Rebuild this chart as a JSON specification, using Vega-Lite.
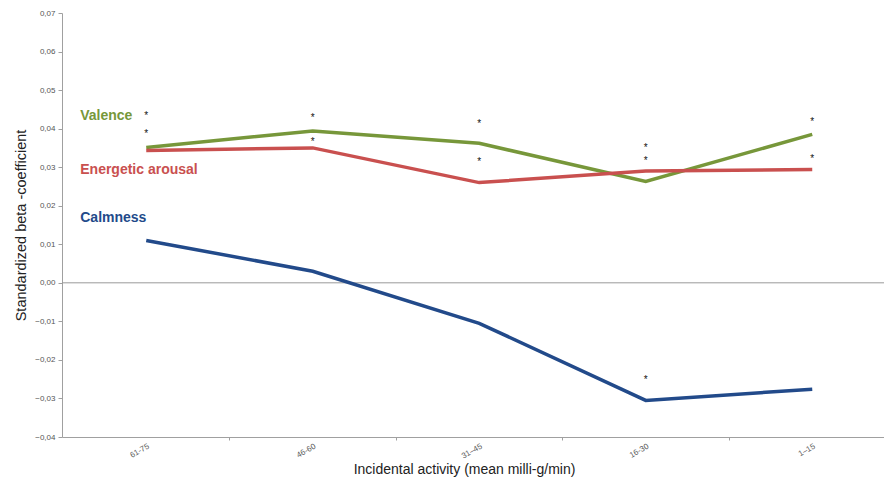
{
  "$schema": "https://vega.github.io/schema/vega-lite/v6.json",
  "width": 822,
  "height": 424,
  "autosize": {"type": "none"},
  "padding": {"left": 62, "top": 13, "right": 0, "bottom": 48},
  "background": "white",
  "config": {"view": {"stroke": null}, "font": "Liberation Sans"},
  "datasets": {
    "lines": [
      {"cat": "61-75", "series": "Valence", "value": 0.0351},
      {"cat": "46-60", "series": "Valence", "value": 0.0394},
      {"cat": "31\u201345", "series": "Valence", "value": 0.0362},
      {"cat": "16-30", "series": "Valence", "value": 0.0263},
      {"cat": "1\u201315", "series": "Valence", "value": 0.0385},
      {"cat": "61-75", "series": "Energetic arousal", "value": 0.0343},
      {"cat": "46-60", "series": "Energetic arousal", "value": 0.0350},
      {"cat": "31\u201345", "series": "Energetic arousal", "value": 0.0260},
      {"cat": "16-30", "series": "Energetic arousal", "value": 0.0290},
      {"cat": "1\u201315", "series": "Energetic arousal", "value": 0.0294},
      {"cat": "61-75", "series": "Calmness", "value": 0.0110},
      {"cat": "46-60", "series": "Calmness", "value": 0.0030},
      {"cat": "31\u201345", "series": "Calmness", "value": -0.0105},
      {"cat": "16-30", "series": "Calmness", "value": -0.0305},
      {"cat": "1\u201315", "series": "Calmness", "value": -0.0276}
    ],
    "stars": [
      {"cat": "61-75", "value": 0.0440},
      {"cat": "61-75", "value": 0.0393},
      {"cat": "46-60", "value": 0.0435},
      {"cat": "46-60", "value": 0.0372},
      {"cat": "31\u201345", "value": 0.0421},
      {"cat": "31\u201345", "value": 0.0320},
      {"cat": "16-30", "value": 0.0357},
      {"cat": "16-30", "value": 0.0323},
      {"cat": "16-30", "value": -0.0245},
      {"cat": "1\u201315", "value": 0.0424},
      {"cat": "1\u201315", "value": 0.0328}
    ],
    "labels": [
      {"cat": "61-75", "series": "Valence", "value": 0.0432},
      {"cat": "61-75", "series": "Energetic arousal", "value": 0.0292},
      {"cat": "61-75", "series": "Calmness", "value": 0.0167}
    ],
    "zero": [{"value": 0}]
  },
  "encoding": {
    "x": {
      "field": "cat",
      "type": "ordinal",
      "sort": ["61-75", "46-60", "31\u201345", "16-30", "1\u201315"],
      "scale": {"type": "point", "padding": 0.4685, "align": 0.54},
      "axis": {
        "title": "Incidental activity (mean milli-g/min)",
        "titleFont": "Liberation Sans",
        "titleFontSize": 14,
        "titleFontWeight": "normal",
        "titleColor": "#222222",
        "titlePadding": 2,
        "titleX": 402,
        "titleAlign": "center",
        "labelAngle": -30,
        "labelFontSize": 8,
        "labelColor": "#555555",
        "labelPadding": 2,
        "tickOffset": 83,
        "labelOffset": -83,
        "tickSize": 3,
        "tickColor": "#a0a0a0",
        "domainColor": "#a0a0a0",
        "grid": false
      }
    },
    "y": {
      "field": "value",
      "type": "quantitative",
      "scale": {"domain": [-0.04, 0.07], "nice": false, "zero": false},
      "axis": {
        "title": "Standardized beta -coefficient",
        "titleFont": "Liberation Sans",
        "titleFontSize": 14.5,
        "titleFontWeight": "normal",
        "titleColor": "#222222",
        "titlePadding": 6,
        "values": [-0.04, -0.03, -0.02, -0.01, 0, 0.01, 0.02, 0.03, 0.04, 0.05, 0.06, 0.07],
        "labelExpr": "replace(format(datum.value, '.2f'), '.', ',')",
        "labelOverlap": false,
        "labelFontSize": 8,
        "labelColor": "#555555",
        "labelPadding": 3,
        "tickSize": 4,
        "tickColor": "#a0a0a0",
        "domainColor": "#a0a0a0",
        "grid": false
      }
    }
  },
  "layer": [
    {
      "data": {"name": "zero"},
      "mark": {"type": "rule", "color": "#9a9a9a", "strokeWidth": 1},
      "encoding": {"x": null}
    },
    {
      "data": {"name": "lines"},
      "mark": {"type": "line", "strokeWidth": 3.5, "strokeJoin": "miter"},
      "encoding": {
        "color": {
          "field": "series",
          "type": "nominal",
          "scale": {"domain": ["Valence", "Energetic arousal", "Calmness"], "range": ["#77973a", "#c9504f", "#224a8a"]},
          "legend": null
        }
      }
    },
    {
      "data": {"name": "stars"},
      "mark": {"type": "text", "text": "*", "fontSize": 10, "fill": "#111111", "baseline": "middle", "align": "center", "dy": 3}
    },
    {
      "data": {"name": "labels"},
      "mark": {"type": "text", "fontSize": 14, "fontWeight": "bold", "align": "left", "baseline": "middle", "dx": -66},
      "encoding": {
        "text": {"field": "series"},
        "color": {"field": "series", "type": "nominal", "legend": null}
      }
    }
  ]
}
